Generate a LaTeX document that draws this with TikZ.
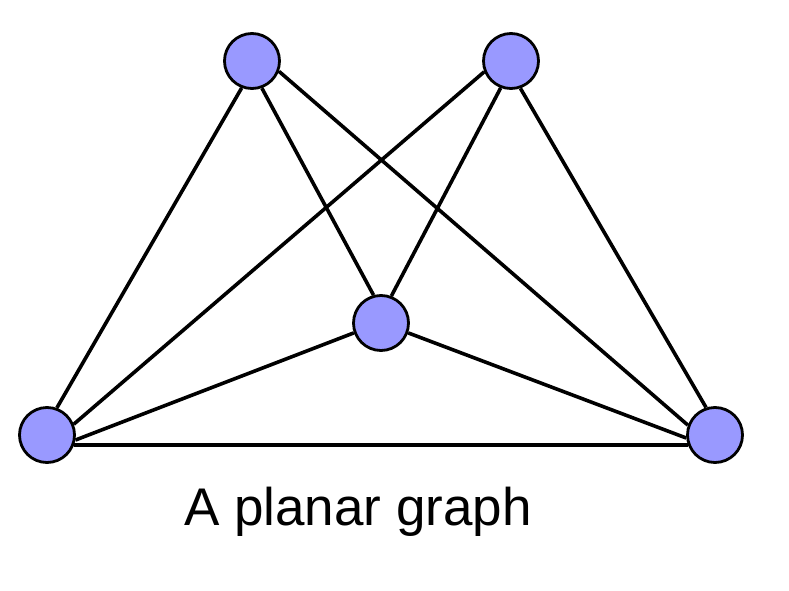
\documentclass[tikz,border=0pt]{standalone}
\usepackage{fontspec}
\setmainfont{Liberation Sans}
\usetikzlibrary{backgrounds}
\definecolor{vfill}{RGB}{153,153,255}
\tikzset{
  vertex/.style={circle, draw=black, line width=2.8pt, fill=vfill, minimum size=55pt, inner sep=0pt},
  edge/.style={draw=black, line width=3.6pt},
  caption/.style={anchor=base, inner sep=0pt, font=\fontsize{53}{60}\selectfont}
}
\begin{document}
\begin{tikzpicture}[x=1pt, y=-1pt]
  \useasboundingbox (0,0) rectangle (789,591);
  \node[vertex] (tl) at (252,61) {};
  \node[vertex] (tr) at (511,61) {};
  \node[vertex] (m)  at (381,323) {};
  \node[vertex] (bl) at (47,435) {};
  \node[vertex] (br) at (715,435) {};
  \begin{scope}[on background layer]
    \draw[edge] (tl.-111) -- (bl.70);
    \draw[edge] (tl.-70)  -- (m.105);
    \draw[edge] (tl.-21)  -- (br.160);
    \draw[edge] (tr.-158) -- (bl.22);
    \draw[edge] (tr.-111) -- (m.69);
    \draw[edge] (tr.-71)  -- (br.108);
    \draw[edge] (m.200)   -- (bl.-10);
    \draw[edge] (m.340)   -- (br.186);
    \draw[edge] (bl.-20)  -- (br.200);
  \end{scope}
  \node[caption] (cap) at (358,525) {A planar graph};
\end{tikzpicture}
\end{document}
